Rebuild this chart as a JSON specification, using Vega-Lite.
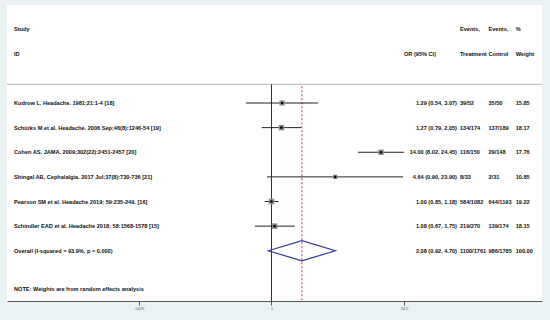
{
  "$schema": "https://vega.github.io/schema/vega-lite/v6.json",
  "width": 535,
  "height": 296,
  "autosize": {"type": "none"},
  "padding": {"left": 7, "top": 5, "right": 8, "bottom": 19},
  "background": "#eaf2f3",
  "config": {
    "view": {"fill": "white", "stroke": null},
    "font": "Liberation Sans",
    "text": {"font": "Liberation Sans", "fontSize": 5.6, "fontWeight": "bold", "baseline": "middle", "color": "#111111"}
  },
  "datasets": {
    "rows": [
      {"kind": "header", "row": 1, "label": "Study", "evt": "Events,", "ctl": "Events,", "wt": "%"},
      {"kind": "header", "row": 2, "label": "ID", "cihead": "OR (95% CI)", "evt": "Treatment", "ctl": "Control", "wt": "Weight"},
      {"kind": "study", "row": 4, "label": "Kudrow L. Headache. 1981;21:1-4 [18]", "or": 1.29, "lo": 0.54, "hi": 3.07, "ci": "1.29 (0.54, 3.07)", "evt": "39/52", "ctl": "35/50", "wt": "15.85", "weight": 15.85},
      {"kind": "study", "row": 5, "label": "Schürks M et al. Headache. 2006 Sep;46(8):1246-54 [19]", "or": 1.27, "lo": 0.79, "hi": 2.05, "ci": "1.27 (0.79, 2.05)", "evt": "134/174", "ctl": "137/189", "wt": "18.17", "weight": 18.17},
      {"kind": "study", "row": 6, "label": "Cohen AS, JAMA. 2009;302(22):2451-2457 [20]", "or": 14.0, "lo": 8.02, "hi": 24.45, "ci": "14.00 (8.02, 24.45)", "evt": "116/150", "ctl": "29/148", "wt": "17.76", "weight": 17.76},
      {"kind": "study", "row": 7, "label": "Shingal AB, Cephalalgia. 2017 Jul;37(8):730-736 [21]", "or": 4.64, "lo": 0.9, "hi": 23.9, "ci": "4.64 (0.90, 23.90)", "evt": "8/33", "ctl": "2/31", "wt": "10.85", "weight": 10.85},
      {"kind": "study", "row": 8, "label": "Pearson SM et al. Headache 2019; 59:235-249. [16]", "or": 1.0, "lo": 0.85, "hi": 1.18, "ci": "1.00 (0.85, 1.18)", "evt": "584/1082", "ctl": "644/1193", "wt": "19.22", "weight": 19.22},
      {"kind": "study", "row": 9, "label": "Schindler EAD et al. Headache 2018; 58:1568-1578 [15]", "or": 1.08, "lo": 0.67, "hi": 1.75, "ci": "1.08 (0.67, 1.75)", "evt": "219/270", "ctl": "139/174", "wt": "18.15", "weight": 18.15},
      {"kind": "overall", "row": 10, "label": "Overall  (I-squared = 93.9%, p = 0.000)", "or": 2.08, "lo": 0.92, "hi": 4.7, "ci": "2.08 (0.92, 4.70)", "evt": "1100/1761", "ctl": "986/1785", "wt": "100.00"},
      {"kind": "note", "row": 11.55, "label": "NOTE: Weights are from random effects analysis"}
    ]
  },
  "data": {"name": "rows"},
  "layer": [
    {
      "data": {"values": [{}]},
      "mark": {"type": "rule", "color": "#b4b4b4", "strokeWidth": 1},
      "encoding": {
        "y": {"datum": 3.24, "type": "quantitative", "scale": {"domain": [0.02, 12.04], "reverse": true, "nice": false, "zero": false}, "axis": null}
      }
    },
    {
      "data": {"values": [{}]},
      "mark": {"type": "rule", "color": "#333333", "strokeWidth": 1},
      "encoding": {
        "x": {"datum": 1, "type": "quantitative", "scale": {"type": "log", "domain": [0.001706, 677.6], "nice": false}, "axis": {"values": [0.0409, 1, 24.45], "labelExpr": "datum.value < 0.5 ? '.0409' : (datum.value > 2 ? '24.5' : '1')", "title": null, "grid": false, "domainColor": "#555555", "tickColor": "#555555", "tickSize": 4, "labelFontSize": 4, "labelColor": "#666666", "labelPadding": 1, "labelFont": "Liberation Sans"}},
        "y": {"datum": 3.24, "type": "quantitative", "scale": {"domain": [0.02, 12.04], "reverse": true, "nice": false, "zero": false}, "axis": null},
        "y2": {"datum": 12.04}
      }
    },
    {
      "transform": [{"filter": "datum.kind == 'overall'"}],
      "mark": {"type": "rule", "color": "#d9342b", "strokeWidth": 1, "strokeDash": [2, 2]},
      "encoding": {
        "x": {"field": "or", "type": "quantitative", "scale": {"type": "log", "domain": [0.001706, 677.6], "nice": false}, "axis": {"values": [0.0409, 1, 24.45], "labelExpr": "datum.value < 0.5 ? '.0409' : (datum.value > 2 ? '24.5' : '1')", "title": null, "grid": false, "domainColor": "#555555", "tickColor": "#555555", "tickSize": 4, "labelFontSize": 4, "labelColor": "#666666", "labelPadding": 1, "labelFont": "Liberation Sans"}},
        "y": {"datum": 3.32, "type": "quantitative", "scale": {"domain": [0.02, 12.04], "reverse": true, "nice": false, "zero": false}, "axis": null},
        "y2": {"datum": 12.04}
      }
    },
    {
      "transform": [{"filter": "datum.kind == 'study'"}],
      "mark": {"type": "rule", "color": "#222222", "strokeWidth": 1},
      "encoding": {
        "x": {"field": "lo", "type": "quantitative", "scale": {"type": "log", "domain": [0.001706, 677.6], "nice": false}, "axis": {"values": [0.0409, 1, 24.45], "labelExpr": "datum.value < 0.5 ? '.0409' : (datum.value > 2 ? '24.5' : '1')", "title": null, "grid": false, "domainColor": "#555555", "tickColor": "#555555", "tickSize": 4, "labelFontSize": 4, "labelColor": "#666666", "labelPadding": 1, "labelFont": "Liberation Sans"}},
        "x2": {"field": "hi"},
        "y": {"field": "row", "type": "quantitative", "scale": {"domain": [0.02, 12.04], "reverse": true, "nice": false, "zero": false}, "axis": null}
      }
    },
    {
      "transform": [{"filter": "datum.kind == 'study'"}],
      "mark": {"type": "point", "shape": "square", "filled": true, "color": "#8c8c8c", "opacity": 1},
      "encoding": {
        "x": {"field": "or", "type": "quantitative", "scale": {"type": "log", "domain": [0.001706, 677.6], "nice": false}, "axis": {"values": [0.0409, 1, 24.45], "labelExpr": "datum.value < 0.5 ? '.0409' : (datum.value > 2 ? '24.5' : '1')", "title": null, "grid": false, "domainColor": "#555555", "tickColor": "#555555", "tickSize": 4, "labelFontSize": 4, "labelColor": "#666666", "labelPadding": 1, "labelFont": "Liberation Sans"}},
        "y": {"field": "row", "type": "quantitative", "scale": {"domain": [0.02, 12.04], "reverse": true, "nice": false, "zero": false}, "axis": null},
        "size": {"field": "weight", "type": "quantitative", "scale": {"domain": [0, 20], "range": [0, 34]}, "legend": null}
      }
    },
    {
      "transform": [{"filter": "datum.kind == 'study'"}],
      "mark": {"type": "point", "shape": "circle", "filled": true, "color": "#000000", "size": 7, "opacity": 1},
      "encoding": {
        "x": {"field": "or", "type": "quantitative", "scale": {"type": "log", "domain": [0.001706, 677.6], "nice": false}, "axis": {"values": [0.0409, 1, 24.45], "labelExpr": "datum.value < 0.5 ? '.0409' : (datum.value > 2 ? '24.5' : '1')", "title": null, "grid": false, "domainColor": "#555555", "tickColor": "#555555", "tickSize": 4, "labelFontSize": 4, "labelColor": "#666666", "labelPadding": 1, "labelFont": "Liberation Sans"}},
        "y": {"field": "row", "type": "quantitative", "scale": {"domain": [0.02, 12.04], "reverse": true, "nice": false, "zero": false}, "axis": null}
      }
    },
    {
      "transform": [{"filter": "datum.kind == 'overall'"}],
      "mark": {"type": "point", "shape": "M-1,0L0,-0.3L1,0L0,0.3Z", "filled": false, "color": "#34389a", "strokeWidth": 1.2, "size": 4489, "opacity": 1},
      "encoding": {
        "x": {"field": "or", "type": "quantitative", "scale": {"type": "log", "domain": [0.001706, 677.6], "nice": false}, "axis": {"values": [0.0409, 1, 24.45], "labelExpr": "datum.value < 0.5 ? '.0409' : (datum.value > 2 ? '24.5' : '1')", "title": null, "grid": false, "domainColor": "#555555", "tickColor": "#555555", "tickSize": 4, "labelFontSize": 4, "labelColor": "#666666", "labelPadding": 1, "labelFont": "Liberation Sans"}},
        "y": {"field": "row", "type": "quantitative", "scale": {"domain": [0.02, 12.04], "reverse": true, "nice": false, "zero": false}, "axis": null}
      }
    },
    {
      "mark": {"type": "text", "align": "left"},
      "encoding": {
        "x": {"datum": 0.00202, "type": "quantitative", "scale": {"type": "log", "domain": [0.001706, 677.6], "nice": false}, "axis": {"values": [0.0409, 1, 24.45], "labelExpr": "datum.value < 0.5 ? '.0409' : (datum.value > 2 ? '24.5' : '1')", "title": null, "grid": false, "domainColor": "#555555", "tickColor": "#555555", "tickSize": 4, "labelFontSize": 4, "labelColor": "#666666", "labelPadding": 1, "labelFont": "Liberation Sans"}},
        "y": {"field": "row", "type": "quantitative", "scale": {"domain": [0.02, 12.04], "reverse": true, "nice": false, "zero": false}, "axis": null},
        "text": {"field": "label"}
      }
    },
    {
      "transform": [{"filter": "isValid(datum.cihead)"}],
      "mark": {"type": "text", "align": "left"},
      "encoding": {
        "x": {"datum": 24.36, "type": "quantitative", "scale": {"type": "log", "domain": [0.001706, 677.6], "nice": false}, "axis": {"values": [0.0409, 1, 24.45], "labelExpr": "datum.value < 0.5 ? '.0409' : (datum.value > 2 ? '24.5' : '1')", "title": null, "grid": false, "domainColor": "#555555", "tickColor": "#555555", "tickSize": 4, "labelFontSize": 4, "labelColor": "#666666", "labelPadding": 1, "labelFont": "Liberation Sans"}},
        "y": {"field": "row", "type": "quantitative", "scale": {"domain": [0.02, 12.04], "reverse": true, "nice": false, "zero": false}, "axis": null},
        "text": {"field": "cihead"}
      }
    },
    {
      "transform": [{"filter": "isValid(datum.ci)"}],
      "mark": {"type": "text", "align": "right"},
      "encoding": {
        "x": {"datum": 87.36, "type": "quantitative", "scale": {"type": "log", "domain": [0.001706, 677.6], "nice": false}, "axis": {"values": [0.0409, 1, 24.45], "labelExpr": "datum.value < 0.5 ? '.0409' : (datum.value > 2 ? '24.5' : '1')", "title": null, "grid": false, "domainColor": "#555555", "tickColor": "#555555", "tickSize": 4, "labelFontSize": 4, "labelColor": "#666666", "labelPadding": 1, "labelFont": "Liberation Sans"}},
        "y": {"field": "row", "type": "quantitative", "scale": {"domain": [0.02, 12.04], "reverse": true, "nice": false, "zero": false}, "axis": null},
        "text": {"field": "ci"}
      }
    },
    {
      "transform": [{"filter": "isValid(datum.evt)"}],
      "mark": {"type": "text", "align": "left"},
      "encoding": {
        "x": {"datum": 93.9, "type": "quantitative", "scale": {"type": "log", "domain": [0.001706, 677.6], "nice": false}, "axis": {"values": [0.0409, 1, 24.45], "labelExpr": "datum.value < 0.5 ? '.0409' : (datum.value > 2 ? '24.5' : '1')", "title": null, "grid": false, "domainColor": "#555555", "tickColor": "#555555", "tickSize": 4, "labelFontSize": 4, "labelColor": "#666666", "labelPadding": 1, "labelFont": "Liberation Sans"}},
        "y": {"field": "row", "type": "quantitative", "scale": {"domain": [0.02, 12.04], "reverse": true, "nice": false, "zero": false}, "axis": null},
        "text": {"field": "evt"}
      }
    },
    {
      "transform": [{"filter": "isValid(datum.ctl)"}],
      "mark": {"type": "text", "align": "left"},
      "encoding": {
        "x": {"datum": 186.6, "type": "quantitative", "scale": {"type": "log", "domain": [0.001706, 677.6], "nice": false}, "axis": {"values": [0.0409, 1, 24.45], "labelExpr": "datum.value < 0.5 ? '.0409' : (datum.value > 2 ? '24.5' : '1')", "title": null, "grid": false, "domainColor": "#555555", "tickColor": "#555555", "tickSize": 4, "labelFontSize": 4, "labelColor": "#666666", "labelPadding": 1, "labelFont": "Liberation Sans"}},
        "y": {"field": "row", "type": "quantitative", "scale": {"domain": [0.02, 12.04], "reverse": true, "nice": false, "zero": false}, "axis": null},
        "text": {"field": "ctl"}
      }
    },
    {
      "transform": [{"filter": "isValid(datum.wt)"}],
      "mark": {"type": "text", "align": "left"},
      "encoding": {
        "x": {"datum": 359.3, "type": "quantitative", "scale": {"type": "log", "domain": [0.001706, 677.6], "nice": false}, "axis": {"values": [0.0409, 1, 24.45], "labelExpr": "datum.value < 0.5 ? '.0409' : (datum.value > 2 ? '24.5' : '1')", "title": null, "grid": false, "domainColor": "#555555", "tickColor": "#555555", "tickSize": 4, "labelFontSize": 4, "labelColor": "#666666", "labelPadding": 1, "labelFont": "Liberation Sans"}},
        "y": {"field": "row", "type": "quantitative", "scale": {"domain": [0.02, 12.04], "reverse": true, "nice": false, "zero": false}, "axis": null},
        "text": {"field": "wt"}
      }
    }
  ]
}
